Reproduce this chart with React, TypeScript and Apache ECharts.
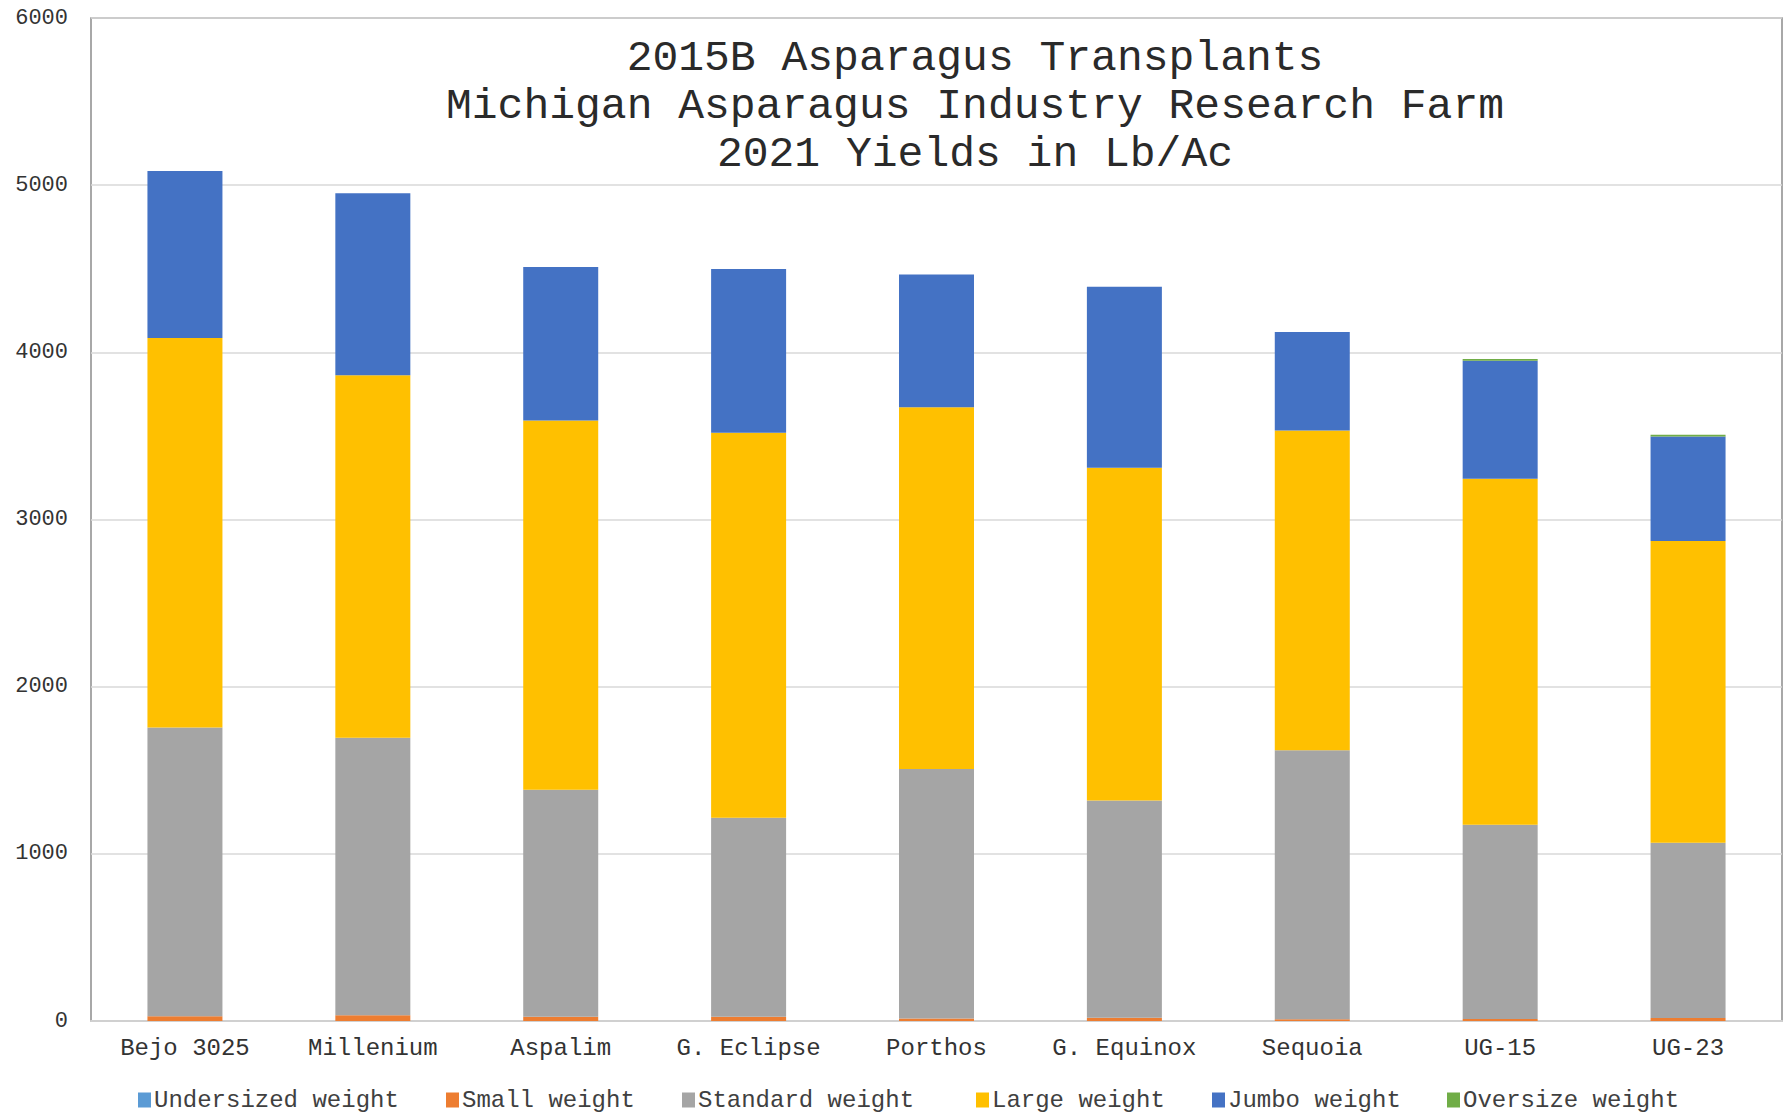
import React, { useEffect, useRef } from "react";
import * as echarts from "echarts";

const categories = ["Bejo 3025", "Millenium", "Aspalim", "G. Eclipse", "Porthos", "G. Equinox", "Sequoia", "UG-15", "UG-23"];
const undersized = [0, 0, 0, 0, 0, 0, 0, 0, 0];
const small = [28, 35, 25, 25, 15, 20, 10, 12, 18];
const standard = [1728, 1660, 1358, 1191, 1492, 1299, 1609, 1162, 1048];
const large = [2329, 2168, 2209, 2303, 2165, 1991, 1914, 2070, 1806];
const jumbo = [1000, 1089, 919, 980, 793, 1082, 589, 706, 625];
const oversize = [0, 0, 0, 0, 0, 0, 0, 10, 10];

const seriesNames = ["Undersized weight", "Small weight", "Standard weight", "Large weight", "Jumbo weight", "Oversize weight"];
const seriesColors = ["#5B9BD5", "#ED7D31", "#A5A5A5", "#FFC000", "#4472C4", "#70AD47"];
const seriesData = [undersized, small, standard, large, jumbo, oversize];
const legendLefts = [138, 446, 682, 976, 1212, 1447];

const titleText = "2015B Asparagus Transplants\nMichigan Asparagus Industry Research Farm\n2021 Yields in Lb/Ac";

const FONT = '"Liberation Mono", "Courier New", monospace';

export default function App() {
  const ref = useRef<HTMLDivElement>(null);
  useEffect(() => {
    document.body.style.margin = "0";
    const chart = echarts.init(ref.current!, null, { renderer: "svg" });
    chart.setOption({
      animation: false,
      backgroundColor: "#ffffff",
      title: {
        text: titleText,
        left: 970,
        top: 29,
        textAlign: "center",
        textStyle: {
          fontFamily: FONT,
          fontSize: 43,
          fontWeight: "normal",
          color: "#2a2a2a",
          lineHeight: 48,
        },
      },
      legend: seriesNames.map((name, i) => ({
        data: [name],
        left: legendLefts[i],
        top: 1088,
        itemWidth: 13,
        itemHeight: 15,
        itemGap: 0,
        padding: 0,
        icon: "rect",
        selectedMode: false,
        textStyle: { fontFamily: FONT, fontSize: 24, color: "#404040", padding: [0, 0, 0, -2] },
      })),
      grid: {
        left: 91,
        right: 2,
        top: 18,
        bottom: 93,
        show: true,
        borderColor: "#8c8c8c",
        borderWidth: 1.5,
      },
      xAxis: {
        type: "category",
        data: categories,
        axisTick: { show: false },
        axisLine: { lineStyle: { color: "#d0d0d0", width: 2 } },
        axisLabel: { fontFamily: FONT, fontSize: 24, color: "#333333", margin: 15, interval: 0 },
      },
      yAxis: {
        type: "value",
        min: 0,
        max: 6000,
        interval: 1000,
        axisLine: { show: false },
        axisTick: { show: false },
        splitLine: { lineStyle: { color: "#d9d9d9", width: 1.5 } },
        axisLabel: {
          fontFamily: FONT,
          fontSize: 22,
          color: "#333333",
          margin: 23,
          formatter: (v: number) => String(v),
        },
      },
      series: seriesNames.map((name, i) => ({
        name,
        type: "bar",
        stack: "total",
        barWidth: 75,
        data: seriesData[i],
        itemStyle: { color: seriesColors[i] },
      })),
    });
    return () => chart.dispose();
  }, []);
  return <div ref={ref} style={{ width: 1784, height: 1114 }} />;
}
